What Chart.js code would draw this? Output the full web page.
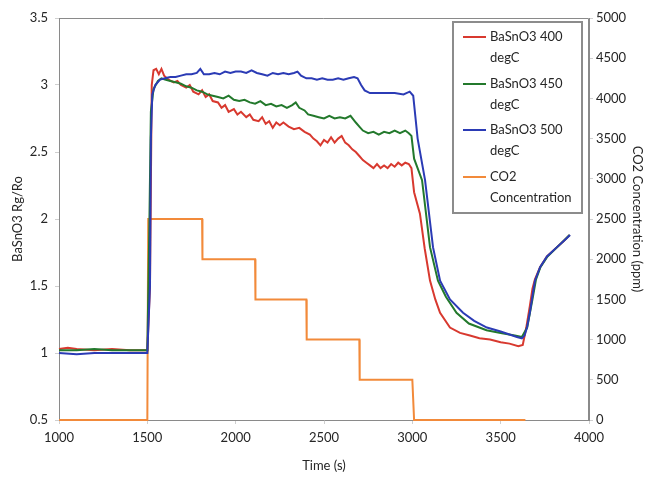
<!DOCTYPE html>
<html>
<head>
<meta charset="utf-8">
<script src="https://cdn.jsdelivr.net/npm/chart.js@4.4.1/dist/chart.umd.min.js"></script>
<style>
  html, body { margin: 0; padding: 0; background: #fff; }
  #wrap { width: 647px; height: 477px; }
</style>
</head>
<body>
<div id="wrap"><canvas id="myChart" width="647" height="477"></canvas></div>
<script>
// values (time in s)
const redT = [1000,1050,1100,1200,1300,1400,1500,1515,1525,1535,1550,1565,1580,1595,1620,1650,1670,1690,1720,1740,1760,1790,1810,1830,1850,1870,1900,1920,1940,1960,1990,2010,2030,2060,2080,2100,2130,2150,2170,2190,2210,2230,2250,2270,2300,2330,2360,2390,2420,2440,2460,2480,2500,2520,2540,2560,2580,2600,2620,2640,2660,2680,2700,2720,2740,2760,2780,2800,2820,2840,2860,2880,2900,2920,2940,2960,2980,2995,3010,3043,3070,3100,3130,3157,3213,3270,3326,3380,3440,3500,3550,3600,3625,3645,3665,3680,3694,3723,3762,3819,3860,3890];
const redV = [1.03,1.04,1.03,1.02,1.03,1.02,1.02,1.5,3.0,3.11,3.12,3.08,3.12,3.07,3.04,3.02,3.03,3.0,2.98,3.0,2.95,2.93,2.96,2.91,2.93,2.88,2.87,2.83,2.85,2.8,2.82,2.78,2.8,2.76,2.78,2.74,2.73,2.76,2.71,2.73,2.68,2.72,2.7,2.72,2.69,2.67,2.68,2.65,2.63,2.6,2.58,2.55,2.59,2.57,2.61,2.57,2.6,2.62,2.57,2.55,2.52,2.5,2.47,2.44,2.42,2.4,2.38,2.41,2.38,2.4,2.38,2.41,2.39,2.42,2.4,2.42,2.41,2.38,2.2,2.04,1.78,1.54,1.4,1.3,1.19,1.15,1.13,1.11,1.1,1.08,1.07,1.05,1.06,1.19,1.35,1.48,1.55,1.64,1.72,1.79,1.84,1.88];

const greenT = [1000,1100,1200,1300,1400,1500,1512,1520,1535,1560,1580,1600,1630,1660,1690,1720,1750,1780,1810,1840,1870,1900,1930,1960,1990,2020,2050,2080,2110,2140,2170,2200,2230,2260,2290,2320,2340,2360,2390,2410,2440,2470,2500,2530,2560,2590,2620,2650,2680,2700,2720,2750,2780,2810,2840,2870,2900,2930,2960,2980,2995,3010,3055,3100,3145,3190,3250,3320,3420,3500,3580,3620,3650,3680,3700,3725,3765,3820,3890];
const greenV = [1.02,1.02,1.03,1.02,1.02,1.02,2.0,2.8,2.97,3.03,3.05,3.04,3.03,3.02,3.01,2.99,2.98,2.96,2.95,2.93,2.92,2.91,2.9,2.92,2.89,2.88,2.89,2.87,2.86,2.88,2.85,2.86,2.84,2.85,2.83,2.85,2.87,2.83,2.81,2.78,2.77,2.76,2.75,2.77,2.75,2.76,2.75,2.77,2.72,2.69,2.66,2.64,2.65,2.63,2.65,2.64,2.66,2.64,2.66,2.64,2.62,2.45,2.29,1.79,1.54,1.42,1.3,1.22,1.17,1.15,1.13,1.12,1.19,1.4,1.55,1.64,1.72,1.79,1.88];

const blueT = [1000,1100,1200,1300,1400,1500,1515,1520,1528,1545,1572,1600,1630,1660,1690,1720,1750,1780,1800,1820,1850,1880,1910,1940,1970,2000,2030,2060,2090,2120,2150,2180,2210,2240,2270,2300,2330,2350,2370,2400,2430,2460,2490,2520,2550,2580,2610,2640,2670,2690,2710,2730,2760,2800,2850,2900,2950,2985,3005,3030,3072,3117,3157,3213,3287,3350,3422,3500,3592,3620,3635,3649,3665,3677,3694,3723,3762,3819,3860,3893];
const blueV = [1.0,0.99,1.0,1.0,1.0,1.0,1.5,2.6,2.93,3.0,3.04,3.05,3.06,3.06,3.07,3.08,3.08,3.09,3.12,3.08,3.08,3.09,3.08,3.1,3.09,3.1,3.1,3.09,3.11,3.09,3.08,3.07,3.09,3.08,3.09,3.08,3.09,3.1,3.07,3.05,3.05,3.04,3.05,3.04,3.04,3.05,3.04,3.05,3.06,3.05,3.0,2.96,2.94,2.94,2.94,2.94,2.93,2.95,2.92,2.6,2.29,1.79,1.54,1.4,1.3,1.24,1.19,1.16,1.12,1.11,1.13,1.19,1.3,1.4,1.54,1.64,1.72,1.79,1.84,1.88];

const co2T = [1000,1500,1505,1810,1812,2110,2112,2400,2402,2700,2702,3000,3010,3640];
const co2V = [0,0,2500,2500,2000,2000,1500,1500,1000,1000,500,500,0,0];

const legendLabels = [['BaSnO3 400', 'degC'], ['BaSnO3 450', 'degC'], ['BaSnO3 500', 'degC'], ['CO2', 'Concentration']];
const colors = ['#d8392f', '#23792c', '#2b3bb5', '#f28a3a'];

const FONT = 'Lato, "Open Sans", sans-serif';
const TEXT = '#262626';
const AXIS = '#8a8a8a';

function pts(t, v) {
    return t.map((x, i) => ({x: x, y: v[i]}));
}

// top/right frame lines + hand drawn legend box (labels wrap on two lines)
const extras = {
    id: 'extras',
    beforeDatasetsDraw(chart) {
        const {ctx, chartArea: a} = chart;
        ctx.save();
        ctx.strokeStyle = AXIS;
        ctx.lineWidth = 1;
        ctx.beginPath();
        ctx.moveTo(a.left, a.top + 0.5);
        ctx.lineTo(a.right - 0.5, a.top + 0.5);
        ctx.lineTo(a.right - 0.5, a.bottom);
        ctx.stroke();
        ctx.restore();
    },
    afterDraw(chart) {
        const ctx = chart.ctx;
        ctx.save();
        ctx.fillStyle = '#fff';
        ctx.fillRect(453, 22, 129, 191);
        ctx.strokeStyle = '#8c8c8c';
        ctx.lineWidth = 2;
        ctx.strokeRect(453, 22, 129, 191);
        ctx.font = '13px ' + FONT;
        ctx.textBaseline = 'middle';
        ctx.fillStyle = TEXT;
        const rows = [37, 84, 130, 177];
        legendLabels.forEach((lab, i) => {
            const y = rows[i];
            ctx.strokeStyle = colors[i];
            ctx.lineWidth = 2;
            ctx.beginPath();
            ctx.moveTo(463, y);
            ctx.lineTo(486, y);
            ctx.stroke();
            ctx.fillText(lab[0], 490, y);
            ctx.fillText(lab[1], 490, y + 21);
        });
        ctx.restore();
    }
};

function line(i, t, v, axis, order) {
    return {
        label: legendLabels[i].join(' '),
        data: pts(t, v),
        yAxisID: axis,
        borderColor: colors[i],
        borderWidth: 2,
        pointRadius: 0,
        tension: 0,
        order: order,
        clip: 4
    };
}

const ctx = document.getElementById('myChart').getContext('2d');
const myChart = new Chart(ctx, {
    type: 'line',
    data: {
        datasets: [
            line(0, redT, redV, 'y', 2),
            line(1, greenT, greenV, 'y', 1),
            line(2, blueT, blueV, 'y', 0),
            line(3, co2T, co2V, 'y1', 3)
        ]
    },
    options: {
        responsive: false,
        animation: false,
        events: [],
        layout: { padding: { top: 18, right: 0, left: 0, bottom: 0 } },
        plugins: { legend: { display: false }, tooltip: { enabled: false } },
        scales: {
            x: {
                type: 'linear',
                min: 1000, max: 4000,
                afterFit: s => { s.height = 57; },
                grid: { drawOnChartArea: false, tickLength: 4, color: '#cfcfcf' },
                border: { color: AXIS },
                ticks: { stepSize: 500, padding: 6, color: TEXT, font: { family: FONT, size: 13 }, maxRotation: 0, callback: v => String(v) },
                title: { display: true, text: 'Time (s)', color: TEXT, font: { family: FONT, size: 13 }, padding: { top: 0, bottom: 3 } }
            },
            y: {
                position: 'left',
                min: 0.5, max: 3.5,
                afterFit: s => { s.width = 59; },
                grid: { drawOnChartArea: false, tickLength: 4, color: '#cfcfcf' },
                border: { color: AXIS },
                ticks: { stepSize: 0.5, padding: 7, color: TEXT, font: { family: FONT, size: 13 }, callback: v => String(+v.toFixed(1)) },
                title: { display: true, text: 'BaSnO3 Rg/Ro', color: TEXT, font: { family: FONT, size: 13 }, padding: { top: 10, bottom: 0 } }
            },
            y1: {
                position: 'right',
                min: 0, max: 5000,
                afterFit: s => { s.width = 58; },
                grid: { drawOnChartArea: false, tickLength: 4, color: '#cfcfcf' },
                border: { color: AXIS },
                ticks: { stepSize: 500, padding: 3, color: TEXT, font: { family: FONT, size: 13 }, callback: v => String(v) },
                title: { display: true, text: 'CO2 Concentration (ppm)', color: TEXT, font: { family: FONT, size: 13 }, padding: { top: 2, bottom: 0 } }
            }
        }
    },
    plugins: [extras]
});
</script>
</body>
</html>
